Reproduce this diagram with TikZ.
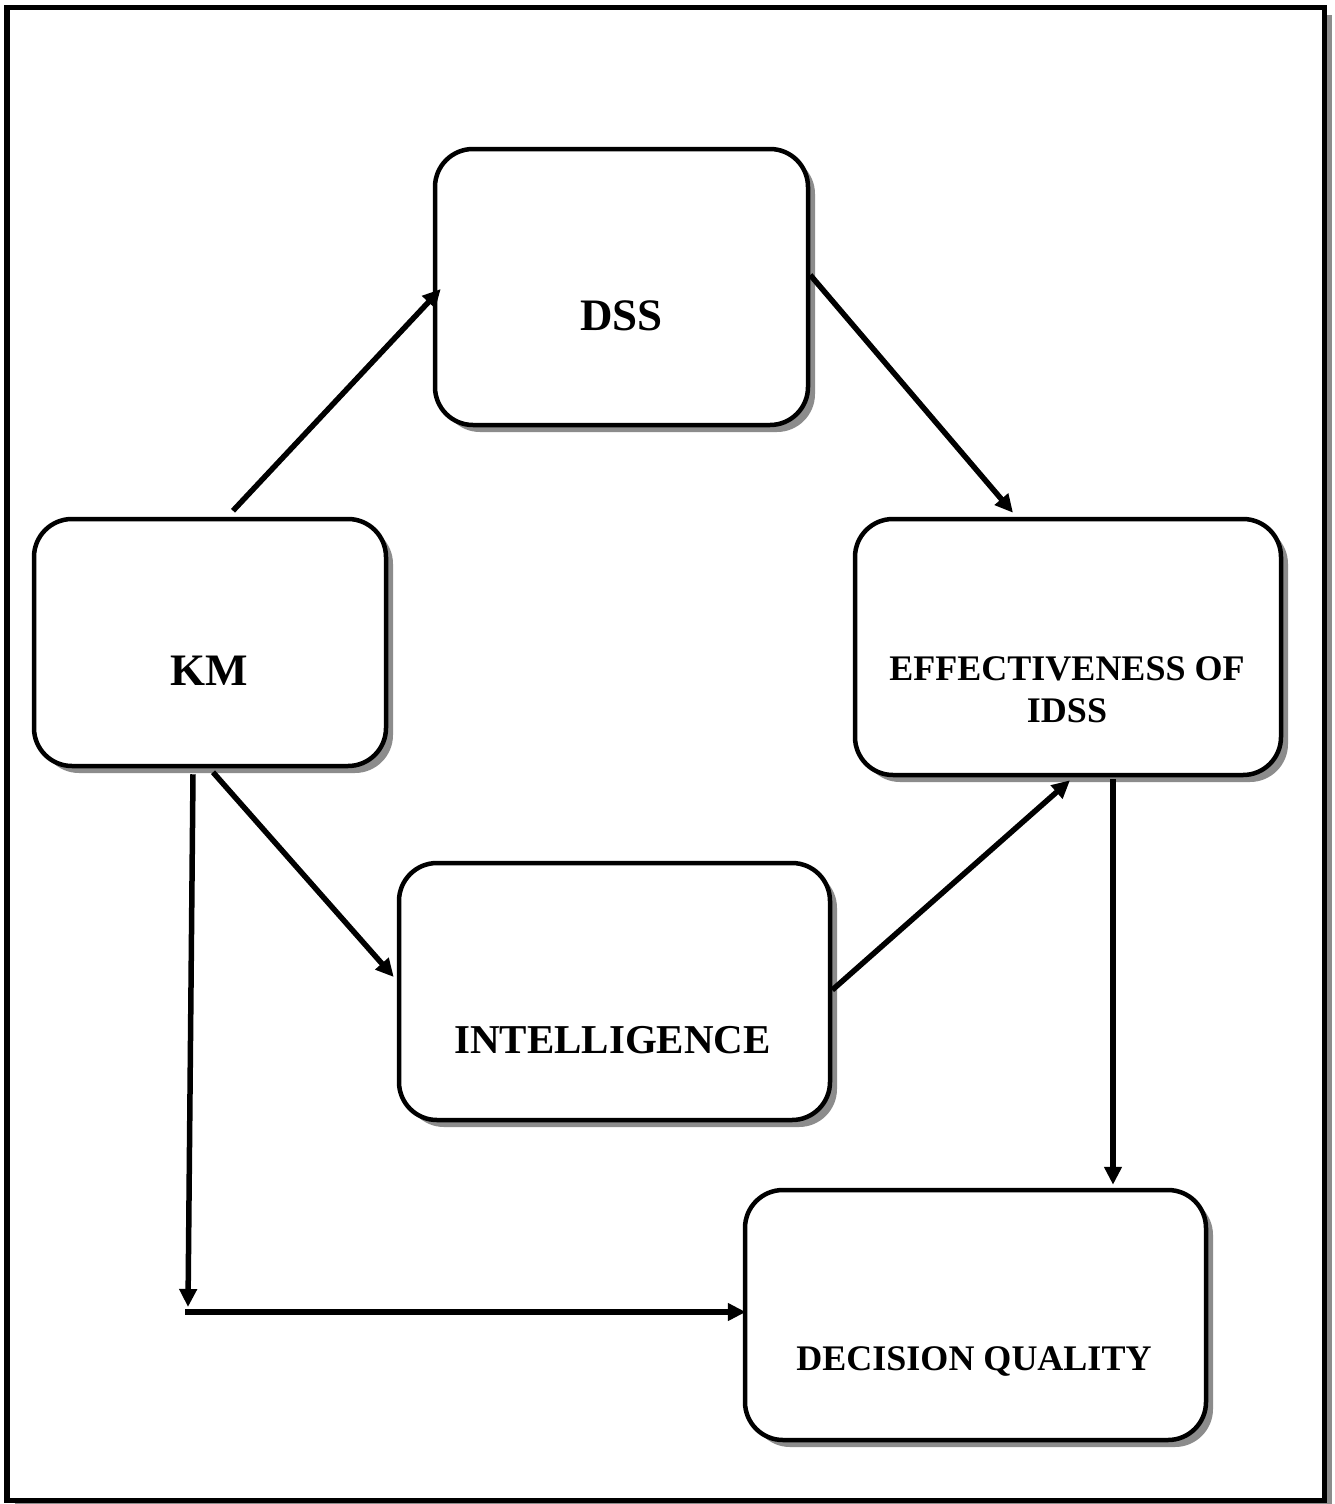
\documentclass[tikz,border=0pt]{standalone}
\usepackage{fontspec}
\setmainfont{Liberation Serif}
\usetikzlibrary{arrows.meta,shadows}

\begin{document}
\begin{tikzpicture}[x=1pt,y=-1pt,
  shade box/.style={drop shadow={shadow xshift=7pt,shadow yshift=-7pt,fill=black!45,opacity=1}},
  box/.style={draw=black,line width=4.5pt,rounded corners=38pt,fill=white,
    inner sep=0pt,shade box},
  lbl/.style={font=\bfseries\fontsize{#1}{#1}\selectfont,anchor=base,inner sep=0pt},
  link/.style={line width=5.5pt,-{Triangle[length=18pt,width=17pt]}},
]
\useasboundingbox (0,0) rectangle (1335,1504);

% outer frame
\draw[line width=5.5pt,fill=white,
  drop shadow={shadow xshift=7.5pt,shadow yshift=-7.5pt,fill=black!45,opacity=1}]
  (7,7.5) rectangle (1324.5,1500.5);

% boxes
\node[box,minimum width=373pt,minimum height=276pt] (dss) at (621.5,287) {};
\node[box,minimum width=352pt,minimum height=247pt] (km)  at (210,642.5) {};
\node[box,minimum width=426pt,minimum height=256pt] (eff) at (1068,647) {};
\node[box,minimum width=431pt,minimum height=257pt] (int) at (614.5,991.5) {};
\node[box,minimum width=461pt,minimum height=250pt] (dq)  at (975.5,1315) {};

% labels
\node[lbl=45] (dsst) at (621.5,330) {DSS};
\node[lbl=45] (kmt)  at (209,685) {KM};
\node[lbl=36] (efft1) at (1067,680) {EFFECTIVENESS OF};
\node[lbl=36] (efft2) at (1067,722) {IDSS};
\node[lbl=41] (intt) at (612.5,1053) {INTELLIGENCE};
\node[lbl=36] (dqt)  at (974,1370) {DECISION QUALITY};

% connectors
\draw[link] ([xshift=23pt,yshift=6pt]km.north) -- ([xshift=8pt,yshift=-2pt]dss.west);
\draw[link] ([yshift=12pt]dss.east) -- ([xshift=-55pt,yshift=4pt]eff.north);
\draw[link] ([xshift=3pt,yshift=-4pt]km.south) -- ([xshift=-3pt,yshift=14.5pt]int.west);
\draw[link] ([yshift=1.5pt]int.east) -- ([xshift=2pt,yshift=-3pt]eff.south);
\draw[link] ([xshift=45pt,yshift=-2pt]eff.south) -- ([xshift=137.5pt,yshift=3pt]dq.north);

\coordinate (bend) at (188,1307);
\coordinate (bendout) at (185,1312);
\draw[link] ([xshift=-17pt,yshift=-6pt]km.south) -- (bend);
\draw[link] (bendout) -- ([xshift=3pt,yshift=3pt]dq.west);
\end{tikzpicture}
\end{document}
